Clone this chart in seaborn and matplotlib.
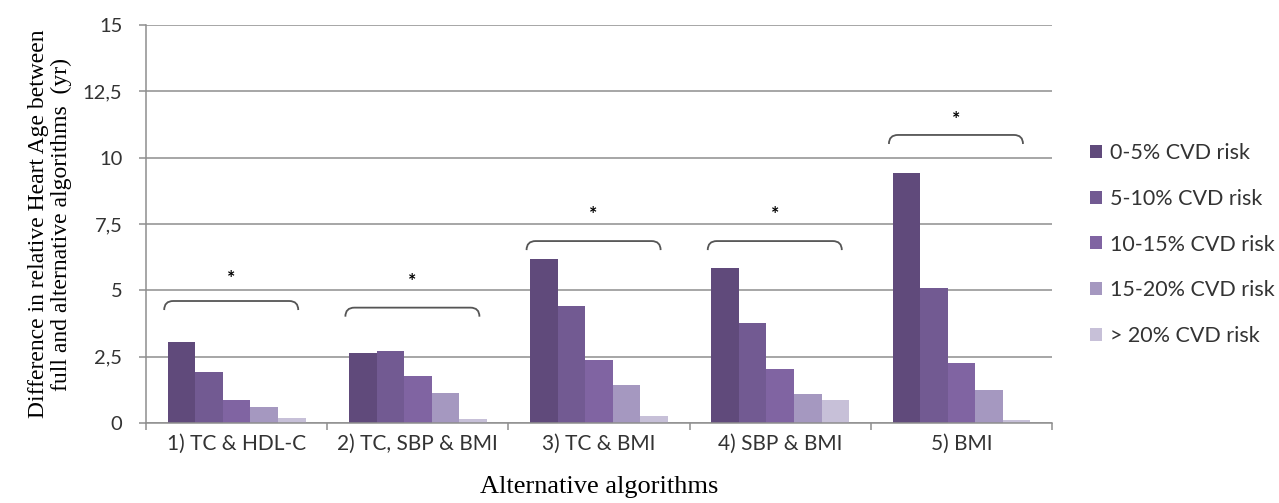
import numpy as np
import pandas as pd
import matplotlib
matplotlib.use('Agg')
import matplotlib.pyplot as plt
from matplotlib.path import Path
from matplotlib.patches import PathPatch
from matplotlib.ticker import FuncFormatter, MultipleLocator
import seaborn as sns

# data
algorithms = ['1) TC & HDL-C', '2) TC, SBP & BMI', '3) TC & BMI', '4) SBP & BMI', '5) BMI']
risk_groups = ['0-5% CVD risk', '5-10% CVD risk', '10-15% CVD risk', '15-20% CVD risk', '> 20% CVD risk']
risk_0_5 = [3.04, 2.63, 6.18, 5.84, 9.41]
risk_5_10 = [1.91, 2.71, 4.42, 3.76, 5.09]
risk_10_15 = [0.87, 1.76, 2.39, 2.05, 2.25]
risk_15_20 = [0.62, 1.14, 1.43, 1.09, 1.24]
risk_20_plus = [0.20, 0.15, 0.25, 0.87, 0.11]

# significance brackets (height of bracket, height of star)
bracket_top = [4.60, 4.35, 6.86, 6.86, 10.86]
star_level = [5.45, 5.35, 7.88, 7.88, 11.45]

colors = ['#604A7B', '#725A92', '#8064A2', '#A598C0', '#C7C0D8']

series = [risk_0_5, risk_5_10, risk_10_15, risk_15_20, risk_20_plus]
rows = []
for risk, vals in zip(risk_groups, series):
    for alg, v in zip(algorithms, vals):
        rows.append({'Algorithm': alg, 'Risk': risk, 'Diff': v})
df = pd.DataFrame(rows)

sns.set_style('white')
plt.rcParams['font.family'] = ['Lato', 'DejaVu Sans']

fig = plt.figure(figsize=(12.79, 5.03), dpi=100)
ax = fig.add_axes([0.1142, 0.159, 0.7083, 0.791])

sns.barplot(data=df, x='Algorithm', y='Diff', hue='Risk', order=algorithms,
            hue_order=risk_groups, palette=colors, saturation=1, width=0.76,
            linewidth=0, ax=ax, legend=True)

grid_c = '#8e8e8e'
text_c = '#333333'
ax.set_ylim(0, 15)
ax.set_xlim(-0.5, len(algorithms) - 0.5)
ax.yaxis.set_major_locator(MultipleLocator(2.5))
ax.yaxis.set_major_formatter(FuncFormatter(lambda v, p: f'{v:g}'.replace('.', ',')))
ax.grid(axis='y', color=grid_c, linewidth=1.1)
ax.set_axisbelow(True)
for s in ['top', 'right']:
    ax.spines[s].set_visible(False)
for s in ['left', 'bottom']:
    ax.spines[s].set_color(grid_c)
    ax.spines[s].set_linewidth(1.1)

ax.tick_params(axis='y', which='major', length=5, width=1.1, color=grid_c,
               labelsize=14.5, labelcolor=text_c, pad=12, left=True)
ax.tick_params(axis='x', which='major', length=0, labelsize=15,
               labelcolor=text_c, pad=8)
ax.set_xticks(np.arange(-0.5, len(algorithms)), minor=True)
ax.tick_params(axis='x', which='minor', length=5, width=1.1, color=grid_c, bottom=True)

ax.set_xlabel('Alternative algorithms', family='Liberation Serif', fontsize=19,
              color='black', labelpad=16)
ax.set_ylabel('Difference in relative Heart Age between\nfull and alternative algorithms  (yr)',
              family='Liberation Serif', fontsize=17, color='black', labelpad=8,
              linespacing=1.12)

# brackets with stars
x0_off, x1_off = -0.40, 0.34
drop = 0.34
r = 0.05
for i, (top, star) in enumerate(zip(bracket_top, star_level)):
    x0, x1 = i + x0_off, i + x1_off
    verts = [(x0, top - drop), (x0, top), (x0 + r, top),
             (x1 - r, top), (x1, top), (x1, top - drop)]
    codes = [Path.MOVETO, Path.CURVE3, Path.CURVE3,
             Path.LINETO, Path.CURVE3, Path.CURVE3]
    ax.add_patch(PathPatch(Path(verts, codes), facecolor='none',
                           edgecolor='#555555', linewidth=1.3))
    ax.text((x0 + x1) / 2, star, '*', ha='center', va='center',
            fontsize=14, color='black', fontweight='bold')

handles, labels = ax.get_legend_handles_labels()
ax.legend_.remove()
fig.legend(handles, labels, loc='upper left', bbox_to_anchor=(0.852, 0.716),
           frameon=False, fontsize=15.5, labelcolor=text_c, handlelength=0.55,
           handleheight=0.55, handletextpad=0.4, labelspacing=1.2,
           borderaxespad=0, borderpad=0)

fig.savefig('out.png', dpi=100, facecolor='white')
